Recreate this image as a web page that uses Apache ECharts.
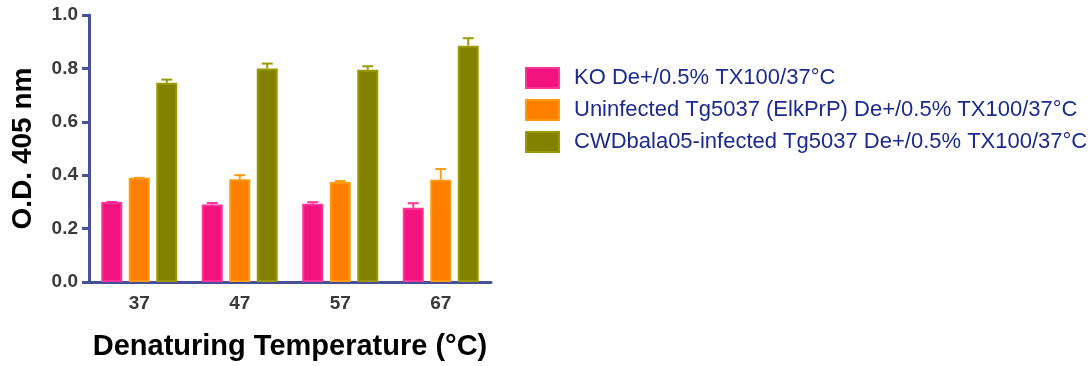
<!DOCTYPE html>
<html>
<head>
<meta charset="utf-8">
<script src="https://cdn.jsdelivr.net/npm/echarts@6/dist/echarts.min.js"></script>
<style>
  html, body { margin: 0; padding: 0; background: #fff; }
  #chart { width: 1092px; height: 366px; }
</style>
</head>
<body>
<div id="chart"></div>
<script>
// Denaturing temperatures (°C)
const categories = ['37', '47', '57', '67'];

// Series names
const seriesNames = [
  'KO De+/0.5% TX100/37°C',
  'Uninfected Tg5037 (ElkPrP) De+/0.5% TX100/37°C',
  'CWDbala05-infected Tg5037 De+/0.5% TX100/37°C'
];

// Mean O.D. 405 nm
const koMean = [0.300, 0.290, 0.293, 0.278];
const uninfMean = [0.390, 0.385, 0.375, 0.383];
const cwdMean = [0.746, 0.800, 0.795, 0.885];

// Standard deviations (upper error bars)
const koSD = [0.000, 0.006, 0.006, 0.017];
const uninfSD = [0.000, 0.015, 0.003, 0.040];
const cwdSD = [0.012, 0.018, 0.013, 0.028];

const yTicks = [0, 0.2, 0.4, 0.6, 0.8, 1.0];

const fills = ['#F2137E', '#FF8000', '#828200'];
const borders = ['#FF3399', '#FF9A10', '#9A9A00'];
const axisColor = '#4A4F9A';
const FONT = 'Liberation Sans, Arial, sans-serif';

const BAR_W = 21;
const BAR_GAP = 6.5; // px between neighbouring bars in a group
const means = [koMean, uninfMean, cwdMean];
const sds = [koSD, uninfSD, cwdSD];

const chart = echarts.init(document.getElementById('chart'), null, { renderer: 'canvas' });

const series = [];
means.forEach((m, s) => {
  series.push({
    name: seriesNames[s],
    type: 'bar',
    data: m,
    barWidth: BAR_W,
    barGap: (BAR_GAP / BAR_W * 100) + '%',
    itemStyle: { color: fills[s], borderColor: borders[s], borderWidth: 2 },
    emphasis: { disabled: true },
    z: 2
  });
});

// Upper error bars, drawn as a "T" over each bar
means.forEach((m, s) => {
  const offset = (s - 1) * (BAR_W + BAR_GAP);
  series.push({
    name: seriesNames[s] + ' SD',
    type: 'custom',
    data: m.map((v, i) => [i, v, v + sds[s][i]]),
    renderItem: function (params, api) {
      const base = api.coord([api.value(0), api.value(1)]);
      const top = api.coord([api.value(0), api.value(2)]);
      const x = base[0] + offset;
      const capW = 11;
      const st = { stroke: borders[s], lineWidth: 2 };
      return {
        type: 'group',
        children: [
          { type: 'line', shape: { x1: x, y1: base[1], x2: x, y2: top[1] }, style: st },
          { type: 'line', shape: { x1: x - capW / 2, y1: top[1], x2: x + capW / 2, y2: top[1] }, style: st }
        ]
      };
    },
    z: 3,
    silent: true,
    legendHoverLink: false
  });
});

chart.setOption({
  animation: false,
  grid: { left: 89, right: 601, top: 15, bottom: 83, containLabel: false },
  legend: {
    data: seriesNames,
    orient: 'vertical',
    left: 520,
    top: 62,
    itemWidth: 33,
    itemHeight: 20,
    itemGap: 10,
    icon: 'rect',
    selectedMode: false,
    textStyle: {
      fontFamily: FONT,
      fontSize: 22,
      lineHeight: 20,
      color: '#1B2A8F',
      padding: [0, 0, 0, 10]
    }
  },
  xAxis: {
    type: 'category',
    data: categories,
    name: 'Denaturing Temperature (°C)',
    nameLocation: 'middle',
    nameGap: 50,
    nameTextStyle: { fontFamily: FONT, fontSize: 29, fontWeight: 'bold', color: '#000' },
    axisLine: { lineStyle: { color: axisColor, width: 3 } },
    axisTick: { alignWithLabel: true, length: 8, lineStyle: { color: axisColor, width: 3 } },
    axisLabel: { margin: 12, fontFamily: FONT, fontSize: 19, fontWeight: 'bold', color: '#3A3A3A' },
    splitLine: { show: false }
  },
  yAxis: {
    type: 'value',
    min: 0,
    max: 1,
    interval: 0.2,
    name: 'O.D. 405 nm',
    nameLocation: 'middle',
    nameGap: 52,
    nameTextStyle: { fontFamily: FONT, fontSize: 28, fontWeight: 'bold', color: '#000' },
    axisLine: { show: true, lineStyle: { color: axisColor, width: 3 } },
    axisTick: { show: true, length: 7, lineStyle: { color: axisColor, width: 3 } },
    axisLabel: {
      margin: 11,
      fontFamily: FONT, fontSize: 19, fontWeight: 'bold', color: '#3A3A3A',
      formatter: v => (yTicks.some(t => Math.abs(t - v) < 1e-9) ? v.toFixed(1) : '')
    },
    splitLine: { show: false }
  },
  series: series
});
</script>
</body>
</html>
